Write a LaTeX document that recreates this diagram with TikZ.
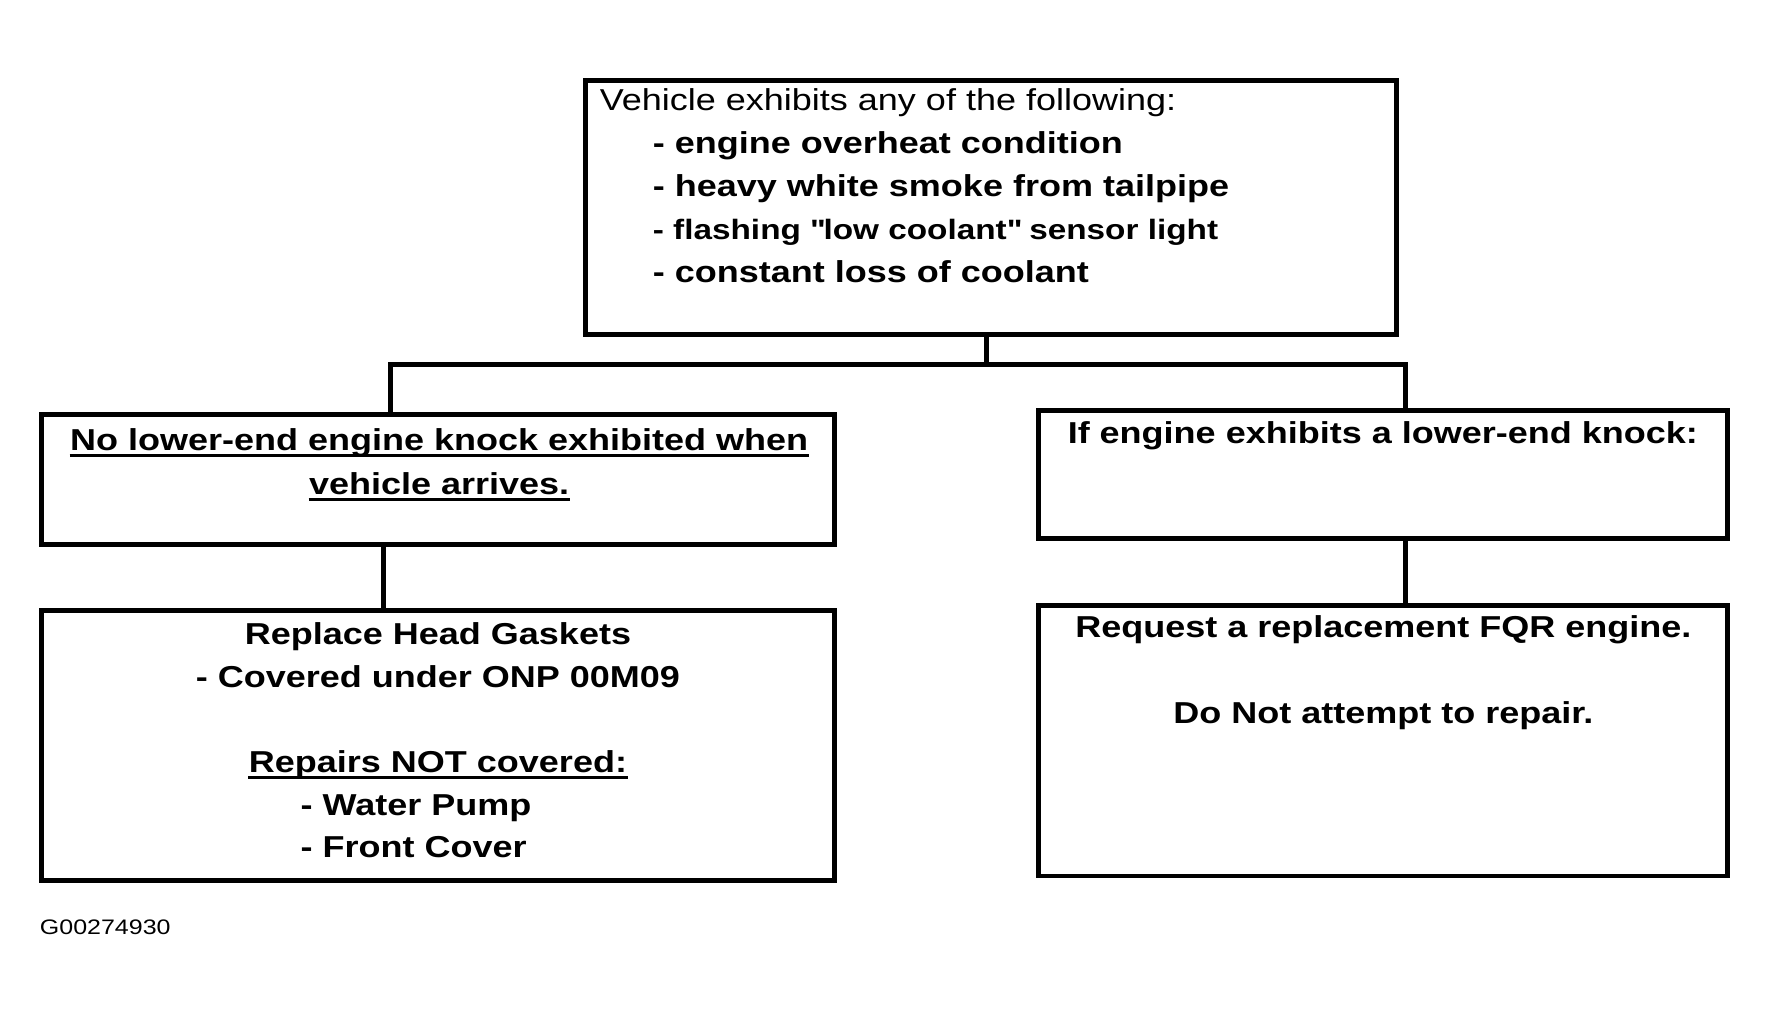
\documentclass[tikz,border=0pt]{standalone}
\usepackage{fontspec}
\setmainfont[FakeStretch=1.19]{Liberation Sans}
\newcommand\straightq{\XeTeXglyph\XeTeXcharglyph"22\relax}
\begin{document}
\begin{tikzpicture}[x=0.5pt,y=-0.5pt,
  box/.style={draw, line width=2.2pt, rectangle, inner sep=0pt, outer sep=0pt, anchor=north west},
  conn/.style={line width=2.2pt, line join=miter},
  txt/.style={inner sep=0pt, font=\fontsize{13.4}{16}\selectfont\bfseries},
  rtxt/.style={inner sep=0pt, font=\fontsize{13.4}{16}\selectfont},
  uline/.style={line width=1.5pt},
  idtxt/.style={inner sep=0pt, font=\fontsize{9.3}{11}\selectfont}]
\useasboundingbox (0,0) rectangle (1568,895.6);
% boxes
\node[box, minimum width=359pt, minimum height=112.5pt] (top) at (519,71) {};
\node[box, minimum width=351pt, minimum height=57.5pt] (l1) at (37,367) {};
\node[box, minimum width=351pt, minimum height=119.5pt] (l2) at (37,541) {};
\node[box, minimum width=305pt, minimum height=56.5pt] (r1) at (920,364) {};
\node[box, minimum width=305pt, minimum height=120pt] (r2) at (920,536) {};
% top box text
\node[rtxt, anchor=base west] (t0) at (531,98) {Vehicle exhibits any of the following:};
\node[txt, anchor=base west] (t1) at (578,136) {- engine overheat condition};
\node[txt, anchor=base west] (t2) at (578,174) {- heavy white smoke from tailpipe};
\node[txt, anchor=base west, font=\fontsize{12.4}{15}\selectfont\bfseries] (t3) at (578,212) {- flashing \straightq low coolant\straightq{} sensor light};
\node[txt, anchor=base west] (t4) at (578,250) {- constant loss of coolant};
% left boxes text
\node[txt, anchor=base] (a1) at (389,399) {No lower-end engine knock exhibited when};
\node[txt, anchor=base] (a2) at (389,438) {vehicle arrives.};
\draw[uline] ([yshift=-2.25pt]a1.base west) -- ([yshift=-2.25pt]a1.base east);
\draw[uline] ([yshift=-2.25pt]a2.base west) -- ([yshift=-2.25pt]a2.base east);
\node[txt, anchor=base] (b1) at (388,571) {Replace Head Gaskets};
\node[txt, anchor=base] (b2) at (388,609) {- Covered under ONP 00M09};
\node[txt, anchor=base] (b3) at (388,684) {Repairs NOT covered:};
\draw[uline] ([yshift=-2.5pt]b3.base west) -- ([yshift=-2.5pt]b3.base east);
\node[txt, anchor=base west] (b4) at (266,722) {- Water Pump};
\node[txt, anchor=base west] (b5) at (266,760) {- Front Cover};
% right boxes text
\node[txt, anchor=base] (c1) at (1225,393) {If engine exhibits a lower-end knock:};
\node[txt, anchor=base] (d1) at (1225.5,565) {Request a replacement FQR engine.};
\node[txt, anchor=base] (d2) at (1225.5,641) {Do Not attempt to repair.};
% id
\node[idtxt, anchor=base west] (gid) at (35,828) {G00274930};
% connectors
\coordinate (hub) at (874,323);
\coordinate (jl) at (346,323);
\coordinate (jr) at (1245,323);
\coordinate (kl) at (340,0);
\coordinate (kr) at (1245,0);
\draw[conn] (top.south -| hub) -- (hub);
\draw[conn] (l1.north -| jl) -- (jl) -- (jr) -- (r1.north -| jr);
\draw[conn] (l1.south -| kl) -- (l2.north -| kl);
\draw[conn] (r1.south -| kr) -- (r2.north -| kr);
\end{tikzpicture}
\end{document}
